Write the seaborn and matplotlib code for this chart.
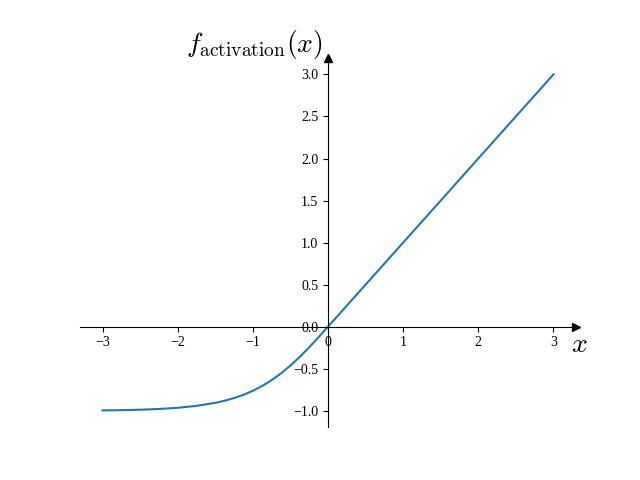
import matplotlib
matplotlib.use("Agg")
import matplotlib.pyplot as plt
import seaborn as sns

# values
x_vals = [-3.0, -2.75, -2.5, -2.25, -2.0, -1.75, -1.5, -1.375, -1.25, -1.125,
          -1.0, -0.875, -0.75, -0.625, -0.5, -0.375, -0.25, -0.125, 0.0, 3.0]
y_vals = [-0.995, -0.992, -0.987, -0.978, -0.964, -0.941, -0.905, -0.880, -0.848, -0.810,
          -0.762, -0.704, -0.635, -0.555, -0.462, -0.358, -0.245, -0.124, 0.0, 3.0]
x_ticks = [-3, -2, -1, 0, 1, 2, 3]
y_ticks = [-1.0, -0.5, 0.0, 0.5, 1.0, 1.5, 2.0, 2.5, 3.0]

plt.rcParams['font.family'] = 'serif'
plt.rcParams['font.serif'] = ['Liberation Serif', 'DejaVu Serif']
plt.rcParams['mathtext.fontset'] = 'cm'

fig, ax = plt.subplots(figsize=(6.4, 4.8), dpi=100)
sns.lineplot(x=x_vals, y=y_vals, ax=ax, color="#1f77b4", linewidth=1.5)

ax.set_xticks(x_ticks)
ax.set_yticks(y_ticks)

ax.spines['left'].set_position(('data', 0))
ax.spines['bottom'].set_position(('data', 0))
ax.spines['top'].set_visible(False)
ax.spines['right'].set_visible(False)

ax.plot(1, 0, ">k", transform=ax.get_yaxis_transform(), clip_on=False, markersize=6)
ax.plot(0, 1, "^k", transform=ax.get_xaxis_transform(), clip_on=False, markersize=6)

ax.text(3.35, -0.22, r"$x$", fontsize=20, ha="center", va="center")
ax.text(-0.98, 3.36, r"$f_{\rm activation}(x)$", fontsize=20, ha="center", va="center")

plt.savefig("out.png")
plt.close()
